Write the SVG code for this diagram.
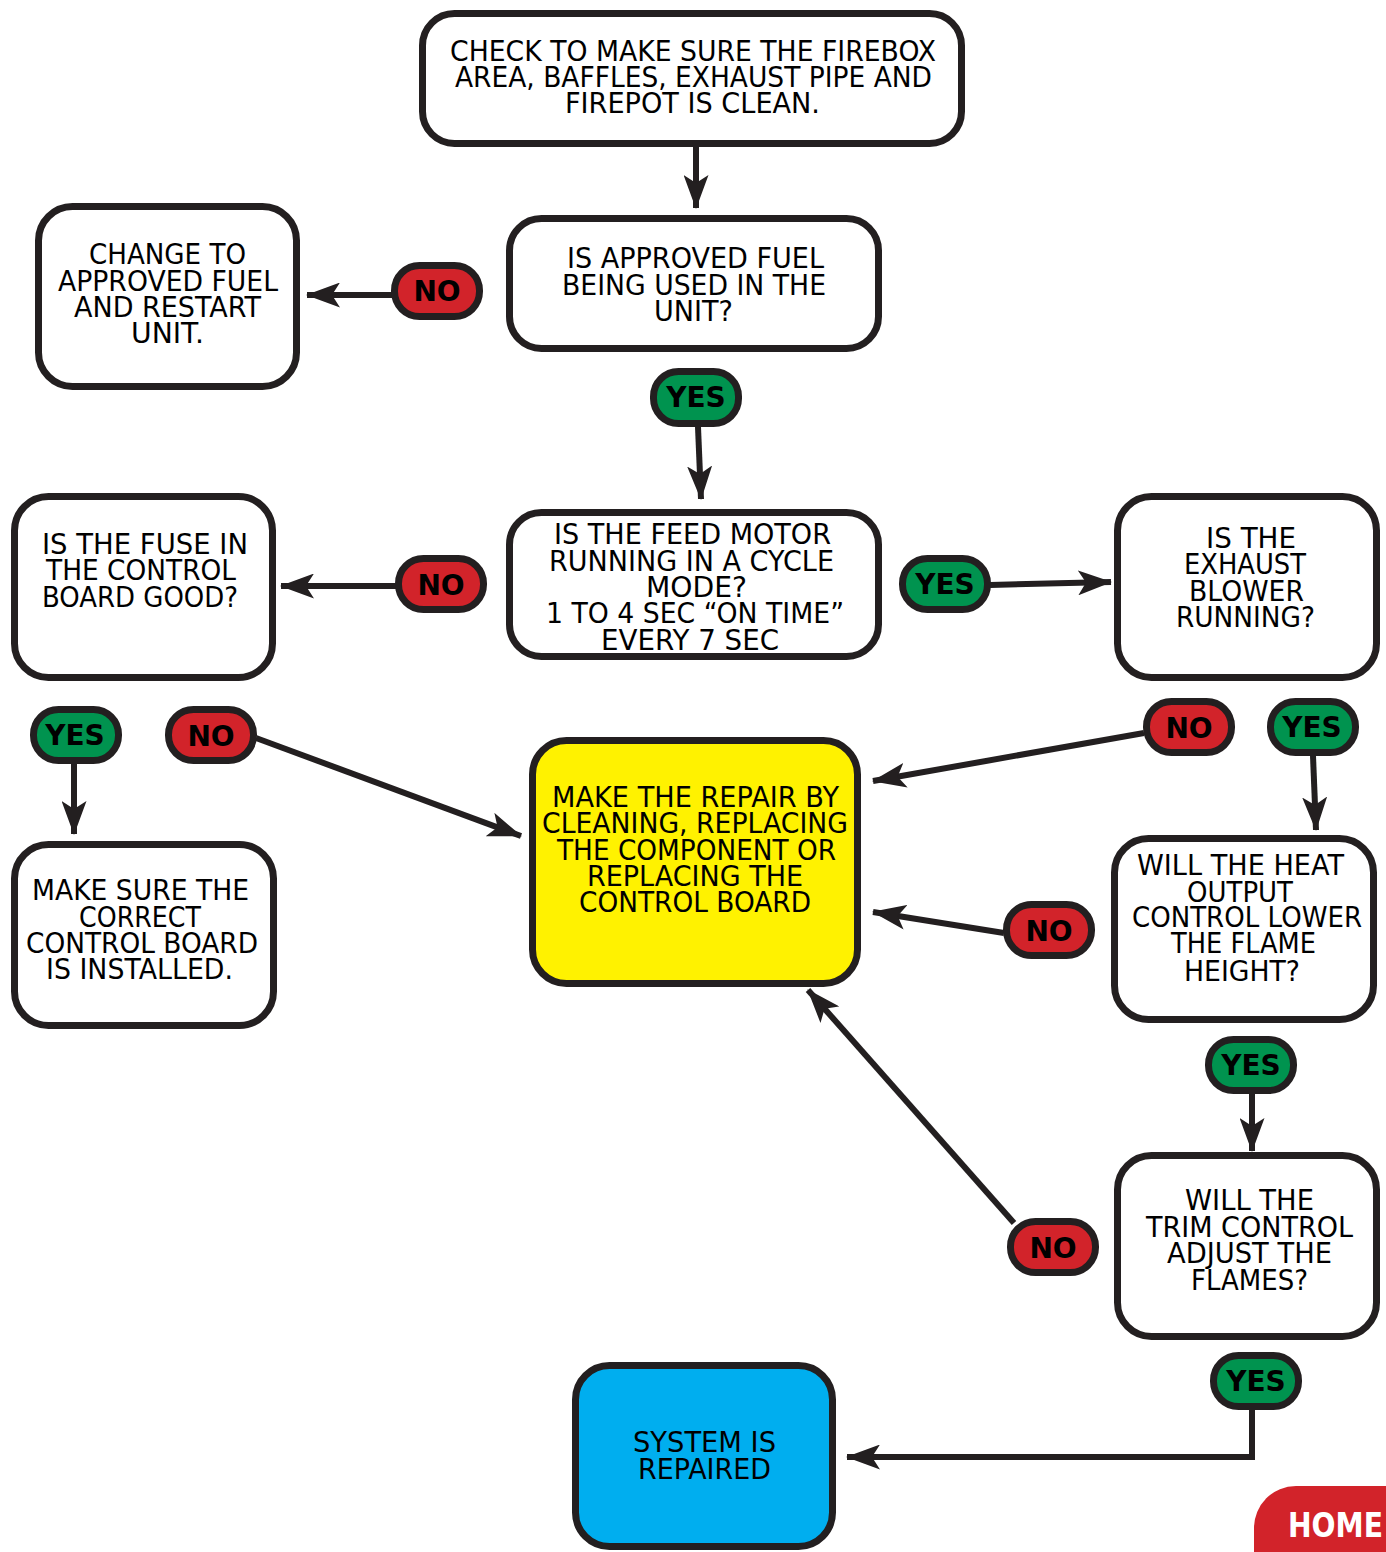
<svg xmlns="http://www.w3.org/2000/svg" width="1386" height="1552" viewBox="0 0 1386 1552">
<style>
.box{fill:#fff;stroke:#231F20;stroke-width:7}
.yel{fill:#FFF200;stroke:#231F20;stroke-width:7}
.blu{fill:#00AEEF;stroke:#231F20;stroke-width:7}
.no{fill:#D2232A;stroke:#231F20;stroke-width:7}
.yes{fill:#00934F;stroke:#231F20;stroke-width:7}
.t{font-family:"DejaVu Sans","Liberation Sans",sans-serif;font-size:29px;fill:#000}
.lb{font-family:"DejaVu Sans","Liberation Sans",sans-serif;font-size:28px;font-weight:bold;fill:#000;text-anchor:middle}
.c{fill:none;stroke:#231F20;stroke-width:6}
</style>
<defs>
<marker id="ah" markerUnits="userSpaceOnUse" viewBox="0 0 34 25" markerWidth="34" markerHeight="25" refX="33" refY="12.5" orient="auto">
<path d="M0,0 L34,12.5 L0,25 L8,12.5 Z" fill="#231F20"/>
</marker>
</defs>
<rect width="1386" height="1552" fill="#fff"/>

<g id="connectors">
<line class="c" x1="696" y1="147" x2="696" y2="208" marker-end="url(#ah)"/>
<line class="c" x1="392" y1="295" x2="307" y2="295" marker-end="url(#ah)"/>
<line class="c" x1="698" y1="427" x2="701" y2="499" marker-end="url(#ah)"/>
<line class="c" x1="396" y1="586" x2="281" y2="586" marker-end="url(#ah)"/>
<line class="c" x1="990" y1="585" x2="1111" y2="582" marker-end="url(#ah)"/>
<line class="c" x1="74" y1="764" x2="74" y2="834" marker-end="url(#ah)"/>
<line class="c" x1="256" y1="738" x2="521" y2="836" marker-end="url(#ah)"/>
<line class="c" x1="1144" y1="733" x2="873" y2="781" marker-end="url(#ah)"/>
<line class="c" x1="1313" y1="756" x2="1316" y2="830" marker-end="url(#ah)"/>
<line class="c" x1="1004" y1="933" x2="873" y2="912" marker-end="url(#ah)"/>
<line class="c" x1="1252" y1="1094" x2="1252" y2="1151" marker-end="url(#ah)"/>
<line class="c" x1="1014" y1="1223" x2="808" y2="990" marker-end="url(#ah)"/>
<path class="c" d="M1252,1410 V1457 H847" marker-end="url(#ah)"/>
</g>

<g id="n-clean">
<rect class="box" x="422.5" y="13.5" width="539" height="130" rx="32"/>
<text class="t" x="450" y="61" textLength="486" lengthAdjust="spacingAndGlyphs">CHECK TO MAKE SURE THE FIREBOX</text>
<text class="t" x="455" y="87" textLength="477" lengthAdjust="spacingAndGlyphs">AREA, BAFFLES, EXHAUST PIPE AND</text>
<text class="t" x="565" y="113" textLength="255" lengthAdjust="spacingAndGlyphs">FIREPOT IS CLEAN.</text>
</g>

<g id="n-fuel">
<rect class="box" x="509.5" y="218.5" width="369" height="130" rx="32"/>
<text class="t" x="567" y="268" textLength="257" lengthAdjust="spacingAndGlyphs">IS APPROVED FUEL</text>
<text class="t" x="562" y="295" textLength="264" lengthAdjust="spacingAndGlyphs">BEING USED IN THE</text>
<text class="t" x="654" y="321" textLength="79" lengthAdjust="spacingAndGlyphs">UNIT?</text>
</g>

<g id="n-change">
<rect class="box" x="38.5" y="206.5" width="258" height="180" rx="34"/>
<text class="t" x="89" y="264" textLength="157" lengthAdjust="spacingAndGlyphs">CHANGE TO</text>
<text class="t" x="58" y="291" textLength="220" lengthAdjust="spacingAndGlyphs">APPROVED FUEL</text>
<text class="t" x="74" y="317" textLength="187" lengthAdjust="spacingAndGlyphs">AND RESTART</text>
<text class="t" x="131" y="343" textLength="73" lengthAdjust="spacingAndGlyphs">UNIT.</text>
</g>

<g id="n-feed">
<rect class="box" x="509.5" y="512.5" width="369" height="144" rx="32"/>
<text class="t" x="554" y="544" textLength="277" lengthAdjust="spacingAndGlyphs">IS THE FEED MOTOR</text>
<text class="t" x="549" y="571" textLength="285" lengthAdjust="spacingAndGlyphs">RUNNING IN A CYCLE</text>
<text class="t" x="646" y="597" textLength="101" lengthAdjust="spacingAndGlyphs">MODE?</text>
<text class="t" x="546" y="623" textLength="298" lengthAdjust="spacingAndGlyphs">1 TO 4 SEC “ON TIME”</text>
<text class="t" x="601" y="650" textLength="178" lengthAdjust="spacingAndGlyphs">EVERY 7 SEC</text>
</g>

<g id="n-fuse">
<rect class="box" x="14.5" y="496.5" width="258" height="181" rx="34"/>
<text class="t" x="42" y="554" textLength="206" lengthAdjust="spacingAndGlyphs">IS THE FUSE IN</text>
<text class="t" x="46" y="580" textLength="190" lengthAdjust="spacingAndGlyphs">THE CONTROL</text>
<text class="t" x="42" y="607" textLength="196" lengthAdjust="spacingAndGlyphs">BOARD GOOD?</text>
</g>

<g id="n-exhaust">
<rect class="box" x="1117.5" y="496.5" width="259" height="181" rx="34"/>
<text class="t" x="1206" y="548" textLength="90" lengthAdjust="spacingAndGlyphs">IS THE</text>
<text class="t" x="1184" y="574" textLength="122" lengthAdjust="spacingAndGlyphs">EXHAUST</text>
<text class="t" x="1189" y="601" textLength="115" lengthAdjust="spacingAndGlyphs">BLOWER</text>
<text class="t" x="1176" y="627" textLength="139" lengthAdjust="spacingAndGlyphs">RUNNING?</text>
</g>

<g id="n-correct">
<rect class="box" x="14.5" y="844.5" width="259" height="181" rx="34"/>
<text class="t" x="32" y="900" textLength="217" lengthAdjust="spacingAndGlyphs">MAKE SURE THE</text>
<text class="t" x="79" y="927" textLength="122" lengthAdjust="spacingAndGlyphs">CORRECT</text>
<text class="t" x="26" y="953" textLength="232" lengthAdjust="spacingAndGlyphs">CONTROL BOARD</text>
<text class="t" x="46" y="979" textLength="187" lengthAdjust="spacingAndGlyphs">IS INSTALLED.</text>
</g>

<g id="n-repair">
<rect class="yel" x="532.5" y="740.5" width="325" height="243" rx="34"/>
<text class="t" x="552" y="807" textLength="287" lengthAdjust="spacingAndGlyphs">MAKE THE REPAIR BY</text>
<text class="t" x="542" y="833" textLength="306" lengthAdjust="spacingAndGlyphs">CLEANING, REPLACING</text>
<text class="t" x="557" y="860" textLength="279" lengthAdjust="spacingAndGlyphs">THE COMPONENT OR</text>
<text class="t" x="587" y="886" textLength="216" lengthAdjust="spacingAndGlyphs">REPLACING THE</text>
<text class="t" x="579" y="912" textLength="232" lengthAdjust="spacingAndGlyphs">CONTROL BOARD</text>
</g>

<g id="n-heat">
<rect class="box" x="1114.5" y="838.5" width="259" height="181" rx="34"/>
<text class="t" x="1137" y="875" textLength="207" lengthAdjust="spacingAndGlyphs">WILL THE HEAT</text>
<text class="t" x="1187" y="902" textLength="106" lengthAdjust="spacingAndGlyphs">OUTPUT</text>
<text class="t" x="1132" y="927" textLength="230" lengthAdjust="spacingAndGlyphs">CONTROL LOWER</text>
<text class="t" x="1171" y="953" textLength="145" lengthAdjust="spacingAndGlyphs">THE FLAME</text>
<text class="t" x="1184" y="981" textLength="116" lengthAdjust="spacingAndGlyphs">HEIGHT?</text>
</g>

<g id="n-trim">
<rect class="box" x="1117.5" y="1155.5" width="259" height="181" rx="34"/>
<text class="t" x="1185" y="1210" textLength="129" lengthAdjust="spacingAndGlyphs">WILL THE</text>
<text class="t" x="1146" y="1237" textLength="207" lengthAdjust="spacingAndGlyphs">TRIM CONTROL</text>
<text class="t" x="1167" y="1263" textLength="165" lengthAdjust="spacingAndGlyphs">ADJUST THE</text>
<text class="t" x="1191" y="1290" textLength="117" lengthAdjust="spacingAndGlyphs">FLAMES?</text>
</g>

<g id="n-repaired">
<rect class="blu" x="575.5" y="1365.5" width="257" height="181" rx="34"/>
<text class="t" x="633" y="1452" textLength="143" lengthAdjust="spacingAndGlyphs">SYSTEM IS</text>
<text class="t" x="638" y="1479" textLength="133" lengthAdjust="spacingAndGlyphs">REPAIRED</text>
</g>

<g id="l-no1"><rect class="no" x="394.5" y="265.5" width="85" height="51" rx="25"/><text class="lb" x="437" y="301">NO</text></g>
<g id="l-yes1"><rect class="yes" x="653.5" y="371.5" width="85" height="52" rx="25"/><text class="lb" x="696" y="407">YES</text></g>
<g id="l-no2"><rect class="no" x="398.5" y="558.5" width="85" height="51" rx="25"/><text class="lb" x="441" y="595">NO</text></g>
<g id="l-yes2"><rect class="yes" x="902.5" y="558.5" width="85" height="51" rx="25"/><text class="lb" x="945" y="594">YES</text></g>
<g id="l-yes3"><rect class="yes" x="33.5" y="709.5" width="85" height="51" rx="25"/><text class="lb" x="75" y="745">YES</text></g>
<g id="l-no3"><rect class="no" x="168.5" y="709.5" width="85" height="51" rx="25"/><text class="lb" x="211" y="746">NO</text></g>
<g id="l-no4"><rect class="no" x="1146.5" y="701.5" width="85" height="51" rx="25"/><text class="lb" x="1189" y="738">NO</text></g>
<g id="l-yes4"><rect class="yes" x="1270.5" y="701.5" width="85" height="51" rx="25"/><text class="lb" x="1312" y="737">YES</text></g>
<g id="l-no5"><rect class="no" x="1006.5" y="904.5" width="85" height="51" rx="25"/><text class="lb" x="1049" y="941">NO</text></g>
<g id="l-yes5"><rect class="yes" x="1208.5" y="1039.5" width="85" height="51" rx="25"/><text class="lb" x="1251" y="1075">YES</text></g>
<g id="l-no6"><rect class="no" x="1010.5" y="1221.5" width="85" height="51" rx="25"/><text class="lb" x="1053" y="1258">NO</text></g>
<g id="l-yes6"><rect class="yes" x="1213.5" y="1355.5" width="85" height="51" rx="25"/><text class="lb" x="1256" y="1391">YES</text></g>

<g id="home">
<rect x="1254" y="1486" width="180" height="120" rx="42" fill="#D2232A"/>
<text x="1288" y="1537" font-family="DejaVu Sans, Liberation Sans, sans-serif" font-size="33" font-weight="bold" fill="#fff" textLength="95" lengthAdjust="spacingAndGlyphs">HOME</text>
</g>
</svg>
